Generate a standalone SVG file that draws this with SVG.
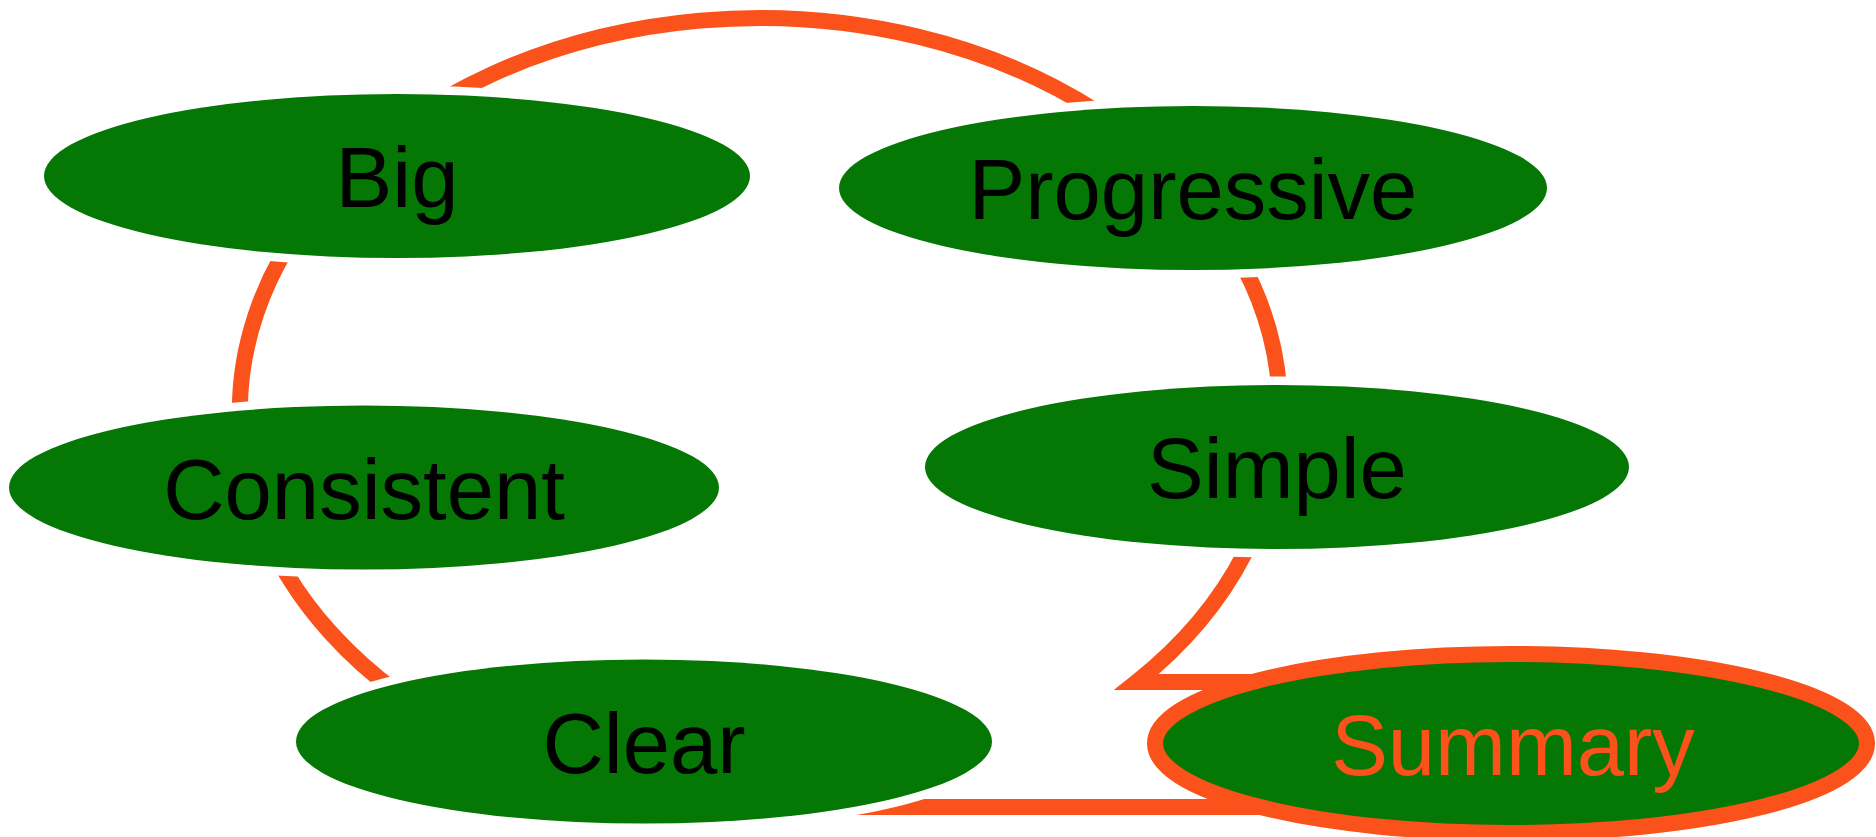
<svg xmlns="http://www.w3.org/2000/svg" width="1876" height="837" viewBox="0 0 1876 837">
<style>
.node{fill:#047704;stroke:#fff;stroke-width:17;paint-order:stroke}
.sum{fill:#047704;stroke:#FA521A;stroke-width:16}
.lbl{font-family:"Liberation Sans",Arial,sans-serif;font-size:85px;fill:#000;text-anchor:middle}
.slbl{fill:#FA521A}
.ring{fill:none;stroke:#FA521A;stroke-width:16;stroke-linejoin:miter;stroke-miterlimit:6}
</style>
<rect width="1876" height="837" fill="#fff"/>
<g id="connectors">
<path class="ring" d="M 475.5 740 A 520 393 0 1 1 1136.6 682 L 1320 682"/>
<path class="ring" d="M 700 807 L 1350 807"/>
</g>
<g id="node-big">
<ellipse class="node" cx="397" cy="176" rx="353" ry="82"/>
<text class="lbl" x="397" y="207">Big</text>
</g>
<g id="node-progressive">
<ellipse class="node" cx="1193" cy="188" rx="354" ry="82"/>
<text class="lbl" x="1193" y="219">Progressive</text>
</g>
<g id="node-consistent">
<ellipse class="node" cx="364" cy="487.5" rx="355" ry="82"/>
<text class="lbl" x="364" y="518.5">Consistent</text>
</g>
<g id="node-simple">
<ellipse class="node" cx="1277" cy="467" rx="352" ry="82"/>
<text class="lbl" x="1277" y="498">Simple</text>
</g>
<g id="node-clear">
<ellipse class="node" cx="644" cy="741.5" rx="348" ry="82"/>
<text class="lbl" x="644" y="772.5">Clear</text>
</g>
<g id="node-summary">
<ellipse class="sum" cx="1511" cy="743.5" rx="356" ry="89.5"/>
<text class="lbl slbl" x="1513" y="775">Summary</text>
</g>
</svg>
